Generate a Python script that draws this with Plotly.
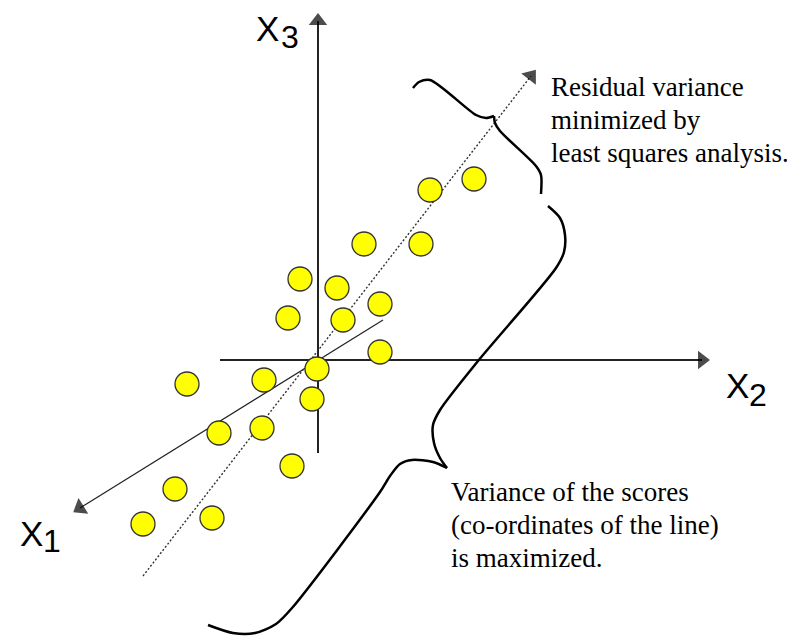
import plotly.graph_objects as go

# pixel-like coordinate system of the sketch (origin top-left)
W, H = 795, 636
PAD = 8  # page body margin of the html output

# data points (scores)
pt_x = [430, 474, 364, 421, 300, 337, 288, 380, 343, 380,
        317, 187, 264, 312, 219, 262, 292, 175, 143, 212]
pt_y = [190, 179, 244, 244, 279, 288, 318, 304, 320, 352,
        369, 384, 380, 399, 433, 428, 466, 489, 524, 518]

# axes: (start, end) - arrow at end
ax3_x, ax3_y = [318, 318], [453, 21]
ax2_x, ax2_y = [220, 702], [360, 360]
ax1_x, ax1_y = [383, 80], [320, 508]
# principal component line (dotted)
pc_x, pc_y = [143, 531], [576, 76]

# braces, each as two halves meeting at a cusp
brace1_a_x, brace1_a_y = [413, 419, 430, 476, 486, 494], [88, 82, 80, 115, 118, 116]
brace1_b_x, brace1_b_y = [494, 495, 500, 536, 541, 541], [116, 123, 131, 166, 175, 194]
brace2_a_x = [548, 560, 565, 564, 556, 478, 440, 433, 434, 440, 447]
brace2_a_y = [206, 218, 235, 252, 268, 361, 410, 425, 443, 458, 468]
brace2_b_x = [447, 433, 412, 400, 390, 380, 292, 276, 255, 233, 208]
brace2_b_y = [468, 462, 460, 464, 476, 492, 608, 624, 633, 633, 625]

text_top = ["Residual variance", "minimized by", "least squares analysis."]
text_top_y = [87, 120, 153]
text_bot = ["Variance of the scores", "(co-ordinates of the line)", "is maximized."]
text_bot_y = [492, 525, 558]

fig = go.Figure()

# axes with arrowheads
for xs, ys, w in [(ax3_x, ax3_y, 2), (ax2_x, ax2_y, 2), (ax1_x, ax1_y, 1.2)]:
    fig.add_trace(go.Scatter(
        x=xs, y=ys, mode='lines+markers',
        line=dict(color='#222', width=w),
        marker=dict(symbol=['circle', 'triangle-up'], size=[0, 16],
                    color='black', angleref='previous', line=dict(width=0)),
        hoverinfo='skip'))

fig.add_trace(go.Scatter(
    x=pc_x, y=pc_y, mode='lines',
    line=dict(color='#333', width=1.4, dash='2px,2px'), hoverinfo='skip'))
fig.add_trace(go.Scatter(
    x=pc_x, y=pc_y, mode='markers',
    marker=dict(symbol=['circle', 'triangle-up'], size=[0, 16],
                color='black', angleref='previous', line=dict(width=0)),
    hoverinfo='skip'))

for xs, ys in [(brace1_a_x, brace1_a_y), (brace1_b_x, brace1_b_y),
               (brace2_a_x, brace2_a_y), (brace2_b_x, brace2_b_y)]:
    fig.add_trace(go.Scatter(
        x=xs, y=ys, mode='lines', line=dict(color='black', width=2.5, shape='spline', smoothing=0.8),
        hoverinfo='skip'))

fig.add_trace(go.Scatter(
    x=pt_x, y=pt_y, mode='markers',
    marker=dict(size=24, color='#ffff00', line=dict(color='#333', width=1.3)),
    hoverinfo='skip'))

serif = dict(family='Liberation Serif', size=27, color='black')
for t, y in zip(text_top, text_top_y):
    fig.add_annotation(x=549, y=y, text=t, showarrow=False, xanchor='left',
                       yanchor='middle', font=serif)
for t, y in zip(text_bot, text_bot_y):
    fig.add_annotation(x=449, y=y, text=t, showarrow=False, xanchor='left',
                       yanchor='middle', font=serif)

sans_big = dict(family='Liberation Sans', size=35, color='black')
sans_sub = dict(family='Liberation Sans', size=32, color='black')
labels = [(267, 28, '3', 290, 37), (737, 385, '2', 758, 395), (31, 533, '1', 52, 541)]
for lx, ly, s, sx, sy in labels:
    fig.add_annotation(x=lx, y=ly, text='X', showarrow=False, font=sans_big)
    fig.add_annotation(x=sx, y=sy, text=s, showarrow=False, font=sans_sub)

fig.update_layout(
    width=W, height=H, margin=dict(l=0, r=0, t=0, b=0),
    paper_bgcolor='white', plot_bgcolor='white', showlegend=False,
    xaxis=dict(range=[PAD, W + PAD], visible=False, fixedrange=True),
    yaxis=dict(range=[H + PAD, PAD], visible=False, fixedrange=True),
)

fig.write_html("out.html")
